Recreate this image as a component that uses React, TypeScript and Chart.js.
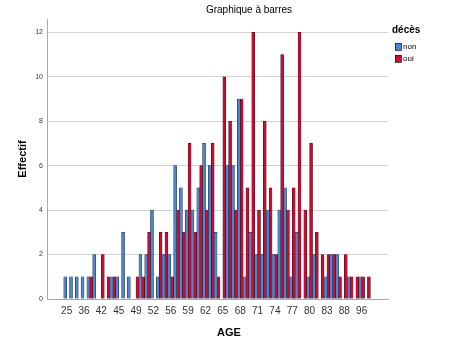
import React, { useEffect, useRef } from 'react';
import { Chart, registerables } from 'chart.js';

Chart.register(...registerables);

// Ages (categories), one tick label shown every 3rd category as in the reference
const ageLabels = ['25','30','33','36','38','40','42','43','44','45','46','48','49','50','51','52','54','55','56','57','58','59','60','61','62','63','64','65','66','67','68','69','70','71','72','73','74','75','76','77','78','79','80','81','82','83','84','85','88','90','92','96','98'];

// décès = non
const nonCounts = [1,1,1,1,1,2,0,0,1,1, 3,1,0,2,2,4,1,2,2,6, 5,4,4,5,7,6,3,0,6,6, 9,1,3,2,2,4,2,4,5,1, 3,0,1,2,0,1,2,2,0,1, 0,1,0];
// décès = oui
const ouiCounts = [0,0,0,0,1,0,2,1,1,0, 0,0,1,1,3,0,3,3,1,4, 3,7,3,6,4,7,1,10,8,4, 9,5,12,4,8,5,2,11,4,5, 12,4,7,3,2,2,2,1,2,1, 1,1,1];

const yTicks = [0, 2, 4, 6, 8, 10, 12];

const TITLE = 'Graphique à barres';
const X_TITLE = 'AGE';
const Y_TITLE = 'Effectif';
const LEGEND_TITLE = 'décès';
const seriesNames = ['non', 'oui'];

const BLUE = '#4a86d2';
const RED = '#cf0a30';
const FONT = '"Liberation Sans", Arial, sans-serif';

export default function App() {
  const ref = useRef<HTMLCanvasElement>(null);

  useEffect(() => {
    const idx = ageLabels.map((_, i) => i);
    const colors = [BLUE, RED];

    const decorations = {
      id: 'decorations',
      afterDraw(chart: any) {
        const ctx = chart.ctx;
        const area = chart.chartArea;
        ctx.save();
        ctx.fillStyle = '#000';
        // title
        ctx.font = `10px ${FONT}`;
        ctx.textAlign = 'center';
        ctx.textBaseline = 'middle';
        ctx.fillText(TITLE, 249, 10);
        // x title
        ctx.font = `bold 11px ${FONT}`;
        ctx.fillText(X_TITLE, 229, 333);
        // y title
        ctx.save();
        ctx.translate(23, (area.top + area.bottom) / 2 + 0);
        ctx.rotate(-Math.PI / 2);
        ctx.fillText(Y_TITLE, 0, 0);
        ctx.restore();
        // legend
        ctx.textAlign = 'left';
        ctx.font = `bold 10px ${FONT}`;
        ctx.fillText(LEGEND_TITLE, 392, 30);
        ctx.font = `8px ${FONT}`;
        seriesNames.forEach((name, i) => {
          const y = 43 + i * 12;
          ctx.fillStyle = colors[i];
          ctx.fillRect(395, y, 6, 7);
          ctx.strokeStyle = '#222';
          ctx.lineWidth = 0.8;
          ctx.strokeRect(395.5, y + 0.5, 6, 7);
          ctx.fillStyle = '#000';
          ctx.fillText(name, 403, y + 4);
        });
        ctx.restore();
      },
    };

    const chart = new Chart(ref.current as HTMLCanvasElement, {
      type: 'bar',
      data: {
        datasets: [nonCounts, ouiCounts].map((vals, d) => ({
          label: seriesNames[d],
          data: idx.map((i) => ({ x: i, y: vals[i] })),
          backgroundColor: colors[d],
          borderColor: '#1a1a1a',
          borderWidth: 0.5,
          barPercentage: 1,
          categoryPercentage: 1,
        })),
      },
      options: {
        responsive: false,
        animation: false,
        font: { family: FONT },
        layout: { padding: { left: 7, top: 19, right: 66, bottom: 0 } },
        plugins: {
          legend: { display: false },
          title: { display: false },
          tooltip: { enabled: false },
        },
        scales: {
          x: {
            type: 'linear',
            min: -3.4,
            max: 55.55,
            offset: false,
            grid: { display: false, offset: false, drawTicks: false },
            border: { display: true, color: '#a8a8a8' },
            ticks: {
              autoSkip: false,
              maxRotation: 0,
              padding: 6,
              color: '#333',
              font: { size: 10, family: FONT },
              callback: (v: any) => ageLabels[v as number],
            },
            afterBuildTicks: (s: any) => {
              s.ticks = idx.filter((i) => i % 3 === 0).map((v) => ({ value: v }));
            },
            afterFit: (s: any) => {
              s.height = 52;
            },
          },
          y: {
            min: 0,
            max: 12.6,
            grid: { color: '#d2d2d2', drawTicks: false },
            border: { display: true, color: '#a8a8a8' },
            ticks: {
              padding: 4,
              color: '#333',
              font: { size: 7, family: FONT },
            },
            afterBuildTicks: (s: any) => {
              s.ticks = yTicks.map((v) => ({ value: v }));
            },
            afterFit: (s: any) => {
              s.width = 40;
            },
          },
        },
      } as any,
      plugins: [decorations],
    });
    return () => chart.destroy();
  }, []);

  return (
    <div style={{ position: 'fixed', left: 0, top: 0, width: 454, height: 351, background: '#fff' }}>
      <canvas ref={ref} width={454} height={351} style={{ display: 'block' }} />
    </div>
  );
}
